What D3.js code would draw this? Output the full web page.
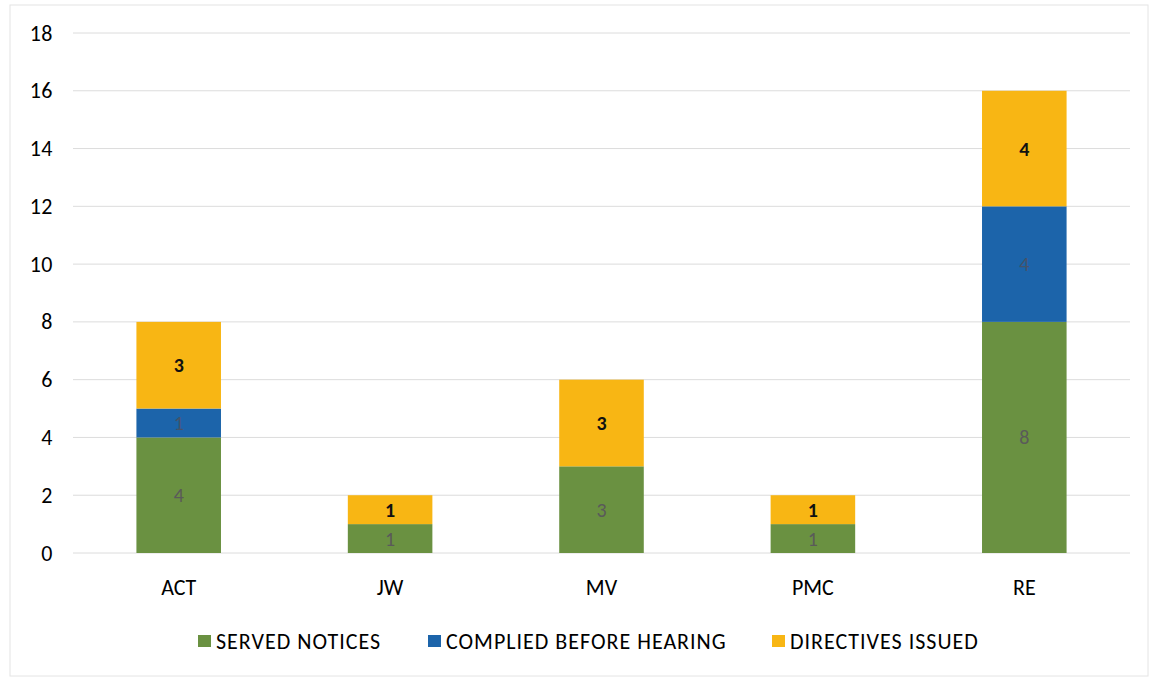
<!DOCTYPE html>
<html>
<head>
<meta charset="utf-8">
<script src="https://cdn.jsdelivr.net/npm/d3@7"></script>
<style>
  body { margin: 0; background: #fff; }
  text { font-family: Calibri, Carlito, Lato, sans-serif; }
</style>
</head>
<body>
<script>
var categories = ["ACT", "JW", "MV", "PMC", "RE"];
var seriesNames = ["SERVED NOTICES", "COMPLIED BEFORE HEARING", "DIRECTIVES ISSUED"];
var served = [4, 1, 3, 1, 8];
var complied = [1, 0, 0, 0, 4];
var directives = [3, 1, 3, 1, 4];
var yTicks = [0, 2, 4, 6, 8, 10, 12, 14, 16, 18];

var colors = ["#6a9141", "#1c64aa", "#f8b614"];
var labelColors = ["#5a5a5a", "#44536a", "#111"];

var width = 1154, height = 681;
var margin = { top: 33, left: 73, right: 24, bottom: 128 };

var svg = d3.select("body").append("svg")
  .attr("width", width)
  .attr("height", height);

// faint outer frame
svg.append("rect")
  .attr("x", 10).attr("y", 5)
  .attr("width", width - 16).attr("height", height - 10)
  .attr("fill", "none")
  .attr("stroke", "#e4e4e4")
  .attr("stroke-width", 1);

var table = categories.map(function(c, i) {
  return { cat: c, s0: served[i], s1: complied[i], s2: directives[i] };
});
var stack = d3.stack().keys(["s0", "s1", "s2"])(table);

var x = d3.scaleBand()
  .domain(categories)
  .range([margin.left, width - margin.right])
  .paddingInner(0.6)
  .paddingOuter(0.3);

var y = d3.scaleLinear()
  .domain([0, 18])
  .range([height - margin.bottom, margin.top]);

// gridlines
svg.append("g")
  .selectAll("line")
  .data(yTicks)
  .join("line")
  .attr("x1", margin.left)
  .attr("x2", width - margin.right)
  .attr("y1", function(d) { return y(d); })
  .attr("y2", function(d) { return y(d); })
  .attr("stroke", "#dcdcdc")
  .attr("stroke-width", 1);

// y axis labels
var yAxis = svg.append("g")
  .attr("transform", "translate(53,0)")
  .call(d3.axisLeft(y).tickValues(yTicks).tickSize(0).tickPadding(0));
yAxis.select(".domain").remove();
yAxis.selectAll("text")
  .attr("font-size", 22)
  .attr("letter-spacing", 0.5)
  .attr("fill", "#000")
  .style("font-family", "Calibri, Carlito, Lato, sans-serif");

// bars
var layers = svg.append("g")
  .selectAll("g")
  .data(stack)
  .join("g")
  .attr("fill", function(d, i) { return colors[i]; });

layers.selectAll("rect")
  .data(function(d) { return d; })
  .join("rect")
  .attr("x", function(d) { return x(d.data.cat); })
  .attr("width", x.bandwidth())
  .attr("y", function(d) { return y(d[1]); })
  .attr("height", function(d) { return y(d[0]) - y(d[1]); });

// value labels
layers.each(function(layer, li) {
  d3.select(this).selectAll("text")
    .data(layer.filter(function(d) { return d[1] - d[0] > 0; }))
    .join("text")
    .attr("x", function(d) { return x(d.data.cat) + x.bandwidth() / 2; })
    .attr("y", function(d) { return (y(d[0]) + y(d[1])) / 2; })
    .attr("dy", "0.35em")
    .attr("text-anchor", "middle")
    .attr("font-size", 20)
    .attr("font-weight", li === 2 ? "bold" : "normal")
    .attr("fill", labelColors[li])
    .text(function(d) { return d[1] - d[0]; });
});

// x axis labels
var xAxis = svg.append("g")
  .attr("transform", "translate(0," + (y(0) + 26) + ")")
  .call(d3.axisBottom(x).tickSize(0).tickPadding(0));
xAxis.select(".domain").remove();
xAxis.selectAll("text")
  .attr("font-size", 22)
  .attr("fill", "#000")
  .style("font-family", "Calibri, Carlito, Lato, sans-serif");

// legend
var legendX = [198, 428, 772];
var legend = svg.append("g")
  .selectAll("g")
  .data(seriesNames)
  .join("g")
  .attr("transform", function(d, i) { return "translate(" + legendX[i] + "," + 641 + ")"; });

legend.append("rect")
  .attr("x", 0).attr("y", -6)
  .attr("width", 13).attr("height", 12)
  .attr("fill", function(d, i) { return colors[i]; });

legend.append("text")
  .attr("x", 18)
  .attr("dy", "0.36em")
  .attr("font-size", 22)
  .attr("letter-spacing", 1)
  .attr("fill", "#000")
  .text(function(d) { return d; });
</script>
</body>
</html>
